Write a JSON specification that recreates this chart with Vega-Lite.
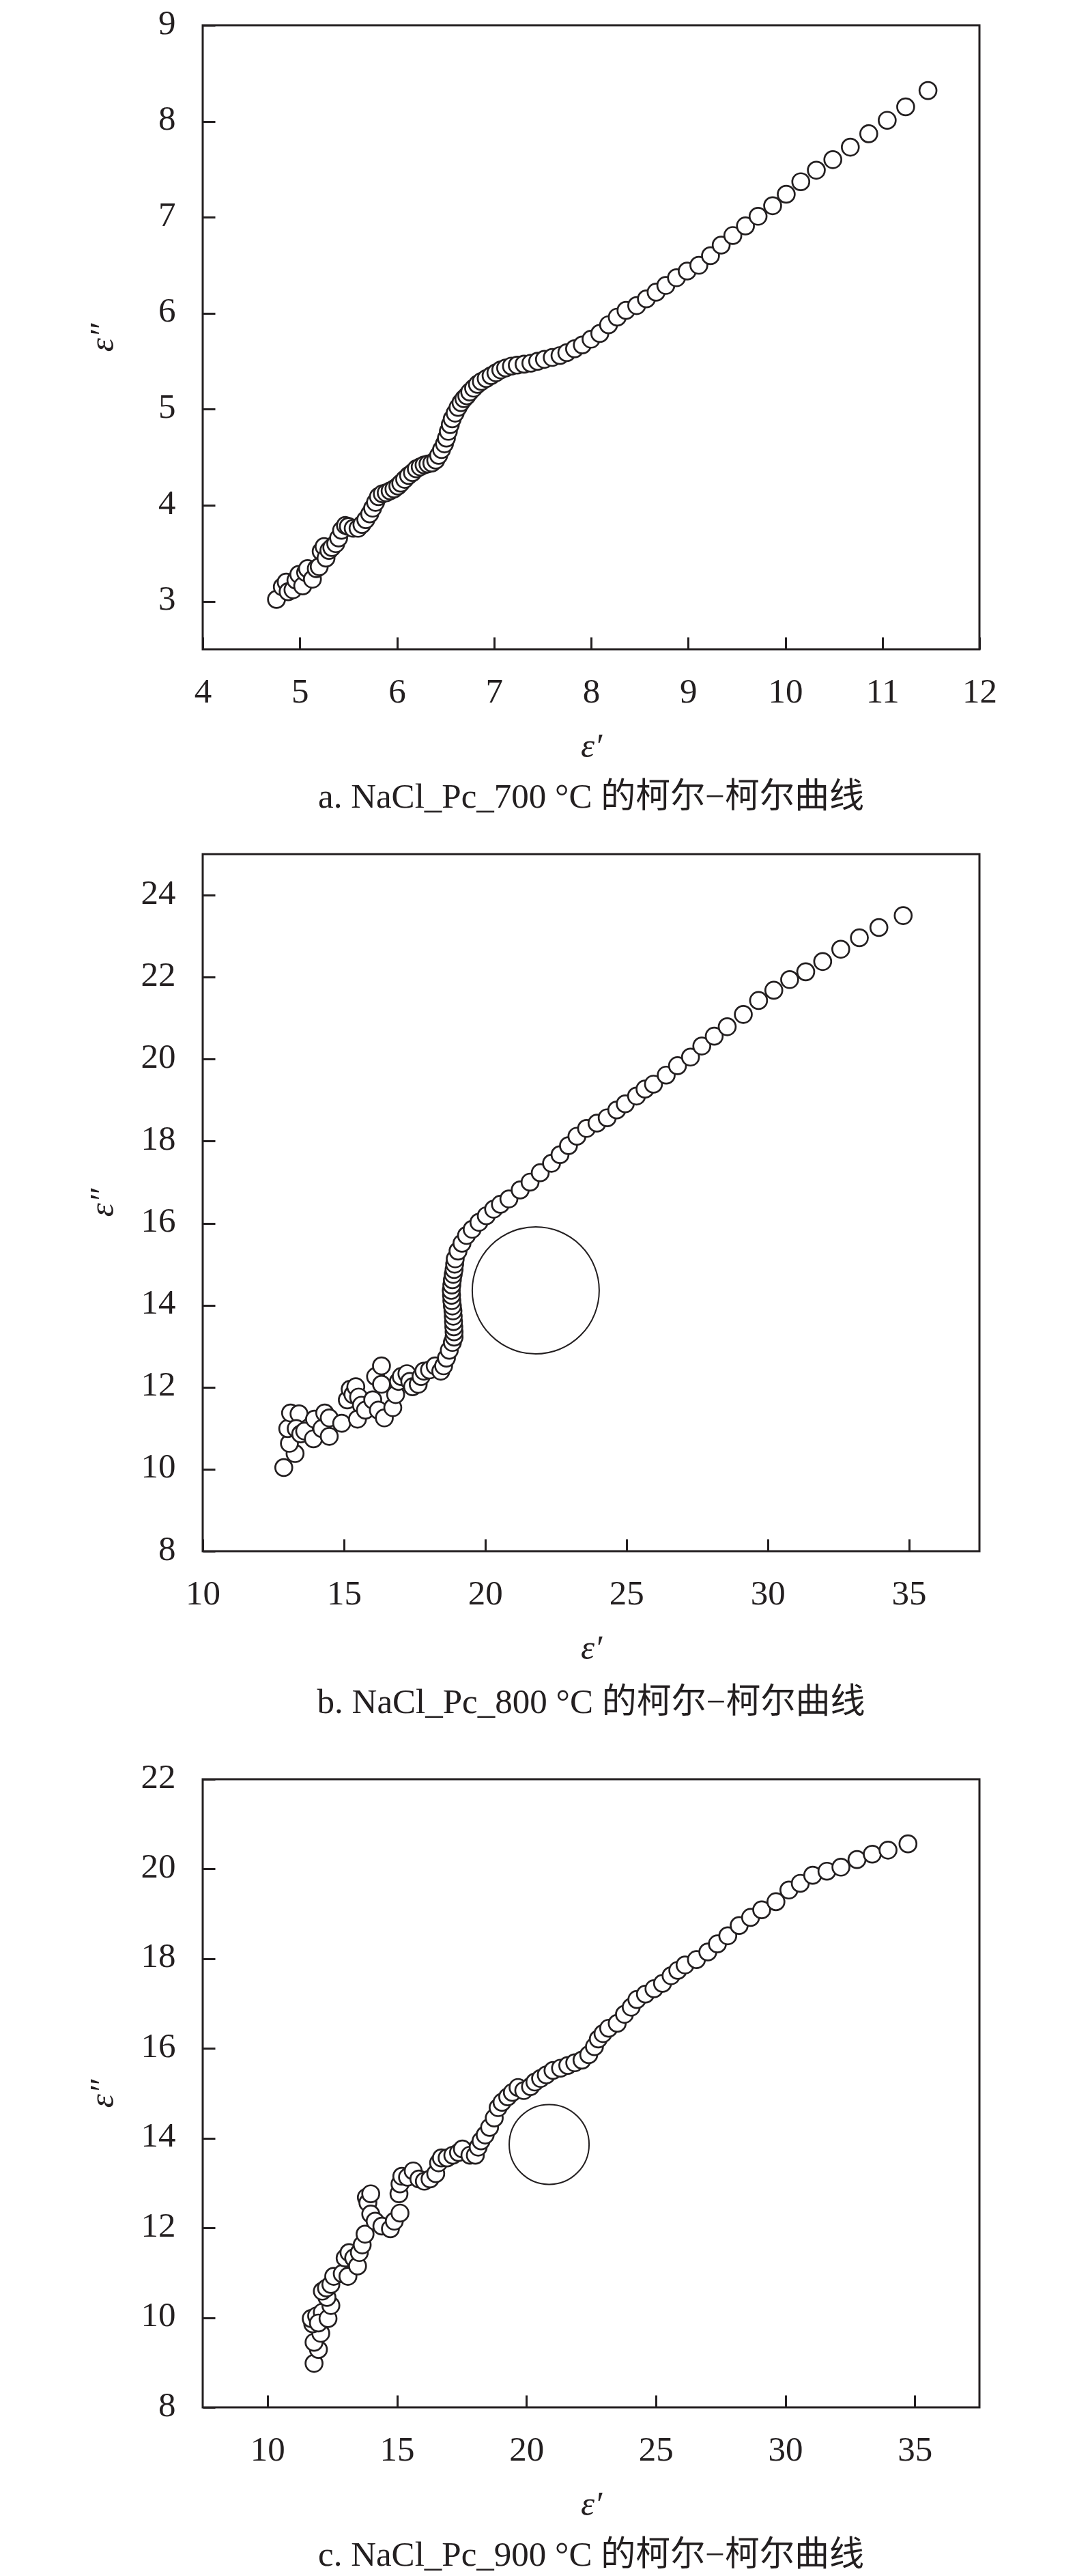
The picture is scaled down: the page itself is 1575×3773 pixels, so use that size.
{
  "$schema": "https://vega.github.io/schema/vega-lite/v6.json",
  "padding": {"left": 122, "top": 6, "right": 40, "bottom": 5},
  "background": "white",
  "spacing": 54,
  "datasets": {
    "a": [
      {"x":4.76,"y":3.02},{"x":4.82,"y":3.15},{"x":4.86,"y":3.20},{"x":4.88,"y":3.10},{"x":4.93,"y":3.12},{"x":4.96,"y":3.22},{"x":4.99,"y":3.28},{"x":5.03,"y":3.16},{"x":5.06,"y":3.30},{"x":5.08,"y":3.34},{"x":5.13,"y":3.23},{"x":5.17,"y":3.34},{"x":5.20,"y":3.36},{"x":5.22,"y":3.52},{"x":5.25,"y":3.57},{"x":5.27,"y":3.45},{"x":5.30,"y":3.53},{"x":5.33,"y":3.56},{"x":5.37,"y":3.60},{"x":5.40,"y":3.66},{"x":5.43,"y":3.74},{"x":5.47,"y":3.79},{"x":5.50,"y":3.78},{"x":5.55,"y":3.76},{"x":5.60,"y":3.76},{"x":5.64,"y":3.80},{"x":5.68,"y":3.85},{"x":5.72,"y":3.91},{"x":5.75,"y":3.97},{"x":5.78,"y":4.03},{"x":5.81,"y":4.09},{"x":5.85,"y":4.12},{"x":5.89,"y":4.13},{"x":5.93,"y":4.15},{"x":5.97,"y":4.17},{"x":6.01,"y":4.20},{"x":6.04,"y":4.23},{"x":6.08,"y":4.27},{"x":6.12,"y":4.31},{"x":6.16,"y":4.34},{"x":6.20,"y":4.38},{"x":6.24,"y":4.40},{"x":6.28,"y":4.42},{"x":6.32,"y":4.43},{"x":6.36,"y":4.44},{"x":6.40,"y":4.47},{"x":6.43,"y":4.52},{"x":6.46,"y":4.58},{"x":6.49,"y":4.64},{"x":6.51,"y":4.70},{"x":6.53,"y":4.77},{"x":6.55,"y":4.84},{"x":6.57,"y":4.90},{"x":6.60,"y":4.96},{"x":6.63,"y":5.02},{"x":6.66,"y":5.07},{"x":6.69,"y":5.11},{"x":6.72,"y":5.14},{"x":6.75,"y":5.18},{"x":6.79,"y":5.22},{"x":6.83,"y":5.26},{"x":6.87,"y":5.29},{"x":6.92,"y":5.32},{"x":6.97,"y":5.35},{"x":7.02,"y":5.38},{"x":7.07,"y":5.41},{"x":7.12,"y":5.43},{"x":7.18,"y":5.45},{"x":7.24,"y":5.46},{"x":7.31,"y":5.47},{"x":7.38,"y":5.48},{"x":7.45,"y":5.50},{"x":7.52,"y":5.52},{"x":7.60,"y":5.54},{"x":7.68,"y":5.56},{"x":7.75,"y":5.59},{"x":7.83,"y":5.63},{"x":7.91,"y":5.67},{"x":8.00,"y":5.73},{"x":8.09,"y":5.79},{"x":8.18,"y":5.88},{"x":8.27,"y":5.96},{"x":8.36,"y":6.03},{"x":8.47,"y":6.08},{"x":8.57,"y":6.15},{"x":8.67,"y":6.22},{"x":8.77,"y":6.29},{"x":8.88,"y":6.37},{"x":8.99,"y":6.44},{"x":9.11,"y":6.50},{"x":9.23,"y":6.60},{"x":9.34,"y":6.71},{"x":9.46,"y":6.81},{"x":9.59,"y":6.91},{"x":9.72,"y":7.01},{"x":9.87,"y":7.12},{"x":10.01,"y":7.24},{"x":10.16,"y":7.37},{"x":10.32,"y":7.49},{"x":10.49,"y":7.60},{"x":10.67,"y":7.73},{"x":10.86,"y":7.87},{"x":11.05,"y":8.01},{"x":11.24,"y":8.15},{"x":11.47,"y":8.32}
    ],
    "b": [
      {"x":12.87,"y":10.04},{"x":13.27,"y":10.38},{"x":13.07,"y":10.63},{"x":13.01,"y":10.99},{"x":13.11,"y":11.37},{"x":13.41,"y":11.35},{"x":13.31,"y":10.99},{"x":13.47,"y":10.86},{"x":13.61,"y":10.93},{"x":13.96,"y":11.22},{"x":13.92,"y":10.74},{"x":14.22,"y":10.99},{"x":14.32,"y":11.37},{"x":14.48,"y":11.25},{"x":14.48,"y":10.80},{"x":14.92,"y":11.12},{"x":15.12,"y":11.69},{"x":15.22,"y":11.95},{"x":15.32,"y":11.82},{"x":15.42,"y":12.01},{"x":15.52,"y":11.76},{"x":15.62,"y":11.56},{"x":15.48,"y":11.22},{"x":15.76,"y":11.44},{"x":16.02,"y":11.69},{"x":16.12,"y":12.26},{"x":16.33,"y":12.52},{"x":16.33,"y":12.07},{"x":16.22,"y":11.44},{"x":16.43,"y":11.25},{"x":16.73,"y":11.50},{"x":16.83,"y":11.82},{"x":16.93,"y":12.14},{"x":17.03,"y":12.26},{"x":17.23,"y":12.33},{"x":17.33,"y":12.14},{"x":17.43,"y":12.01},{"x":17.63,"y":12.07},{"x":17.73,"y":12.26},{"x":17.83,"y":12.39},{"x":18.03,"y":12.42},{"x":18.23,"y":12.52},{"x":18.43,"y":12.39},{"x":18.53,"y":12.52},{"x":18.63,"y":12.71},{"x":18.73,"y":12.90},{"x":18.84,"y":13.09},{"x":18.90,"y":13.22},{"x":18.90,"y":13.35},{"x":18.89,"y":13.47},{"x":18.88,"y":13.60},{"x":18.87,"y":13.73},{"x":18.86,"y":13.86},{"x":18.84,"y":13.98},{"x":18.82,"y":14.11},{"x":18.81,"y":14.24},{"x":18.80,"y":14.36},{"x":18.82,"y":14.49},{"x":18.84,"y":14.62},{"x":18.87,"y":14.75},{"x":18.90,"y":14.87},{"x":18.92,"y":15.00},{"x":18.94,"y":15.13},{"x":19.04,"y":15.32},{"x":19.18,"y":15.51},{"x":19.34,"y":15.70},{"x":19.54,"y":15.85},{"x":19.78,"y":16.02},{"x":20.04,"y":16.18},{"x":20.30,"y":16.34},{"x":20.54,"y":16.46},{"x":20.84,"y":16.59},{"x":21.24,"y":16.81},{"x":21.59,"y":17.00},{"x":21.95,"y":17.23},{"x":22.35,"y":17.46},{"x":22.65,"y":17.67},{"x":22.95,"y":17.89},{"x":23.25,"y":18.12},{"x":23.59,"y":18.31},{"x":23.96,"y":18.44},{"x":24.32,"y":18.57},{"x":24.66,"y":18.76},{"x":24.96,"y":18.91},{"x":25.36,"y":19.10},{"x":25.66,"y":19.27},{"x":25.96,"y":19.39},{"x":26.41,"y":19.61},{"x":26.81,"y":19.84},{"x":27.27,"y":20.05},{"x":27.67,"y":20.32},{"x":28.11,"y":20.56},{"x":28.57,"y":20.79},{"x":29.14,"y":21.09},{"x":29.68,"y":21.43},{"x":30.22,"y":21.68},{"x":30.78,"y":21.94},{"x":31.35,"y":22.13},{"x":31.95,"y":22.38},{"x":32.59,"y":22.68},{"x":33.25,"y":22.96},{"x":33.94,"y":23.21},{"x":34.80,"y":23.50}
    ],
    "c": [
      {"x":11.80,"y":8.98},{"x":11.97,"y":9.29},{"x":11.80,"y":9.45},{"x":12.06,"y":9.65},{"x":11.75,"y":9.86},{"x":11.69,"y":9.98},{"x":11.90,"y":10.04},{"x":12.12,"y":10.12},{"x":11.97,"y":9.88},{"x":12.34,"y":9.98},{"x":12.45,"y":10.27},{"x":12.30,"y":10.45},{"x":12.12,"y":10.59},{"x":12.28,"y":10.66},{"x":12.45,"y":10.74},{"x":12.56,"y":10.92},{"x":12.89,"y":10.98},{"x":13.11,"y":10.92},{"x":13.00,"y":11.33},{"x":13.15,"y":11.45},{"x":13.33,"y":11.33},{"x":13.48,"y":11.15},{"x":13.55,"y":11.45},{"x":13.66,"y":11.62},{"x":13.77,"y":11.86},{"x":13.82,"y":12.68},{"x":13.88,"y":12.56},{"x":13.99,"y":12.76},{"x":13.99,"y":12.31},{"x":14.16,"y":12.15},{"x":14.42,"y":12.04},{"x":14.75,"y":11.98},{"x":14.90,"y":12.15},{"x":15.12,"y":12.33},{"x":15.08,"y":12.76},{"x":15.12,"y":12.98},{"x":15.19,"y":13.15},{"x":15.41,"y":13.13},{"x":15.63,"y":13.27},{"x":15.85,"y":13.09},{"x":16.06,"y":13.04},{"x":16.28,"y":13.09},{"x":16.50,"y":13.21},{"x":16.61,"y":13.45},{"x":16.72,"y":13.56},{"x":16.94,"y":13.56},{"x":17.16,"y":13.62},{"x":17.38,"y":13.68},{"x":17.53,"y":13.76},{"x":17.82,"y":13.62},{"x":18.03,"y":13.62},{"x":18.14,"y":13.80},{"x":18.25,"y":13.94},{"x":18.41,"y":14.07},{"x":18.58,"y":14.24},{"x":18.76,"y":14.45},{"x":18.91,"y":14.68},{"x":19.06,"y":14.80},{"x":19.28,"y":14.92},{"x":19.46,"y":15.02},{"x":19.68,"y":15.13},{"x":19.90,"y":15.06},{"x":20.16,"y":15.15},{"x":20.33,"y":15.25},{"x":20.55,"y":15.33},{"x":20.77,"y":15.41},{"x":21.03,"y":15.51},{"x":21.32,"y":15.56},{"x":21.60,"y":15.62},{"x":21.87,"y":15.68},{"x":22.15,"y":15.74},{"x":22.41,"y":15.86},{"x":22.63,"y":16.04},{"x":22.78,"y":16.21},{"x":22.96,"y":16.33},{"x":23.18,"y":16.45},{"x":23.51,"y":16.56},{"x":23.79,"y":16.76},{"x":24.05,"y":16.92},{"x":24.27,"y":17.09},{"x":24.60,"y":17.21},{"x":24.93,"y":17.33},{"x":25.26,"y":17.45},{"x":25.59,"y":17.62},{"x":25.85,"y":17.74},{"x":26.13,"y":17.86},{"x":26.57,"y":17.98},{"x":27.01,"y":18.15},{"x":27.38,"y":18.33},{"x":27.78,"y":18.51},{"x":28.22,"y":18.74},{"x":28.66,"y":18.92},{"x":29.09,"y":19.09},{"x":29.64,"y":19.27},{"x":30.14,"y":19.53},{"x":30.58,"y":19.68},{"x":31.06,"y":19.86},{"x":31.61,"y":19.95},{"x":32.15,"y":20.04},{"x":32.77,"y":20.21},{"x":33.36,"y":20.33},{"x":33.97,"y":20.42},{"x":34.74,"y":20.56}
    ],
    "bigB": [{"x":21.79,"y":14.36}],
    "bigC": [{"x":20.88,"y":13.86}]
  },
  "vconcat": [
    {
      "width": 1138, "height": 914,
      "title": {"text": "a. NaCl_Pc_700 °C 的柯尔−柯尔曲线"},
      "layer": [
        {
          "data": {"name": "a"},
          "mark": {"type": "point", "shape": "circle", "filled": true, "fill": "white", "stroke": "#231f20", "strokeWidth": 2.7, "size": 620, "opacity": 1, "clip": true},
          "encoding": {
            "x": {"field": "x", "type": "quantitative", "scale": {"domain": [4, 12], "nice": false, "zero": false}, "axis": {"values": [4,5,6,7,8,9,10,11,12], "format": "d", "title": "ε′"}},
            "y": {"field": "y", "type": "quantitative", "scale": {"domain": [2.5, 9], "nice": false, "zero": false}, "axis": {"values": [3,4,5,6,7,8,9], "format": "d", "title": "ε″", "titleY": 457}}
          }
        }
      ]
    },
    {
      "width": 1138, "height": 1021,
      "title": {"text": "b. NaCl_Pc_800 °C 的柯尔−柯尔曲线", "offset": 30},
      "layer": [
        {
          "data": {"name": "b"},
          "mark": {"type": "point", "shape": "circle", "filled": true, "fill": "white", "stroke": "#231f20", "strokeWidth": 2.7, "size": 620, "opacity": 1, "clip": true},
          "encoding": {
            "x": {"field": "x", "type": "quantitative", "scale": {"domain": [10, 37.5], "nice": false, "zero": false}, "axis": {"values": [10,15,20,25,30,35], "format": "d", "title": "ε′"}},
            "y": {"field": "y", "type": "quantitative", "scale": {"domain": [8, 25], "nice": false, "zero": false}, "axis": {"values": [8,10,12,14,16,18,20,22,24], "format": "d", "title": "ε″", "titleY": 510}}
          }
        },
        {
          "data": {"name": "bigB"},
          "mark": {"type": "point", "shape": "circle", "filled": false, "stroke": "#231f20", "strokeWidth": 2, "size": 34600, "opacity": 1},
          "encoding": {
            "x": {"field": "x", "type": "quantitative"},
            "y": {"field": "y", "type": "quantitative"}
          }
        }
      ]
    },
    {
      "width": 1138, "height": 920,
      "title": {"text": "c. NaCl_Pc_900 °C 的柯尔−柯尔曲线"},
      "layer": [
        {
          "data": {"name": "c"},
          "mark": {"type": "point", "shape": "circle", "filled": true, "fill": "white", "stroke": "#231f20", "strokeWidth": 2.7, "size": 620, "opacity": 1, "clip": true},
          "encoding": {
            "x": {"field": "x", "type": "quantitative", "scale": {"domain": [7.5, 37.5], "nice": false, "zero": false}, "axis": {"values": [10,15,20,25,30,35], "format": "d", "title": "ε′"}},
            "y": {"field": "y", "type": "quantitative", "scale": {"domain": [8, 22], "nice": false, "zero": false}, "axis": {"values": [8,10,12,14,16,18,20,22], "format": "d", "title": "ε″", "titleY": 460}}
          }
        },
        {
          "data": {"name": "bigC"},
          "mark": {"type": "point", "shape": "circle", "filled": false, "stroke": "#231f20", "strokeWidth": 2, "size": 13700, "opacity": 1},
          "encoding": {
            "x": {"field": "x", "type": "quantitative"},
            "y": {"field": "y", "type": "quantitative"}
          }
        }
      ]
    }
  ],
  "config": {
    "view": {"stroke": "#231f20", "strokeWidth": 3},
    "font": "Liberation Serif",
    "axis": {
      "grid": false, "domain": false,
      "tickColor": "#231f20", "tickWidth": 3, "tickSize": -18,
      "labelFont": "Liberation Serif", "labelFontSize": 51, "labelColor": "#231f20",
      "labelFlush": false, "labelOverlap": false,
      "titleFont": "Liberation Serif", "titleFontSize": 51, "titleFontStyle": "italic", "titleFontWeight": "normal", "titleColor": "#231f20"
    },
    "axisX": {"labelPadding": 55, "titleBaseline": "alphabetic", "titleAlign": "center", "titleX": 569, "titleY": 157},
    "axisY": {"labelPadding": 58, "labelOffset": -3, "titleBaseline": "alphabetic", "titleAlign": "center", "titleAngle": -90, "titleX": -132},
    "title": {"orient": "bottom", "anchor": "middle", "frame": "group", "font": "Liberation Serif, Noto Sans CJK SC", "fontSize": 51, "fontWeight": "normal", "color": "#231f20", "offset": 25, "baseline": "top"}
  }
}
